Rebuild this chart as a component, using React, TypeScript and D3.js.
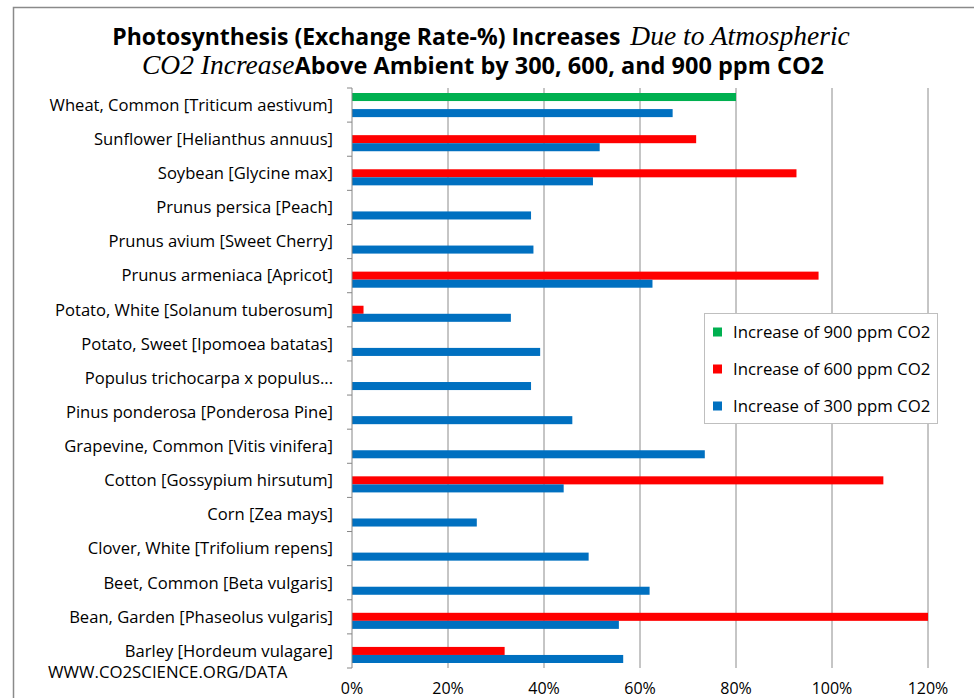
import React from "react";
import * as d3 from "d3";

const categories = [
  "Wheat, Common [Triticum aestivum]",
  "Sunflower [Helianthus annuus]",
  "Soybean [Glycine max]",
  "Prunus persica [Peach]",
  "Prunus avium [Sweet Cherry]",
  "Prunus armeniaca [Apricot]",
  "Potato, White [Solanum tuberosum]",
  "Potato, Sweet [Ipomoea batatas]",
  "Populus trichocarpa x populus...",
  "Pinus ponderosa [Ponderosa Pine]",
  "Grapevine, Common [Vitis vinifera]",
  "Cotton [Gossypium hirsutum]",
  "Corn [Zea mays]",
  "Clover, White [Trifolium repens]",
  "Beet, Common [Beta vulgaris]",
  "Bean, Garden [Phaseolus vulgaris]",
  "Barley [Hordeum vulagare]",
];

// percent increase; null = no data
const inc900: (number | null)[] = [80, null, null, null, null, null, null, null, null, null, null, null, null, null, null, null, null];
const inc600: (number | null)[] = [null, 71.7, 92.6, null, null, 97.2, 2.4, null, null, null, null, 110.7, null, null, null, 120, 31.8];
const inc300: (number | null)[] = [66.8, 51.6, 50.2, 37.3, 37.8, 62.6, 33.1, 39.2, 37.3, 45.9, 73.5, 44.1, 26.0, 49.3, 62.0, 55.6, 56.5];

const xTicks = [0, 20, 40, 60, 80, 100, 120];

const seriesKeys = ["s900", "s600", "s300"];
const seriesLabels = ["Increase of 900 ppm CO2", "Increase of 600 ppm CO2", "Increase of 300 ppm CO2"];
const seriesColors = ["#00B050", "#FF0000", "#0070C0"];

const W = 974;
const H = 698;
const plot = { left: 352, right: 928, top: 88, bottom: 668 };
const sans = "'Open Sans', Lato, sans-serif";
const serif = "'Liberation Serif', 'DejaVu Serif', serif";

export default function App() {
  const x = d3.scaleLinear().domain([0, 120]).range([plot.left, plot.right]);
  const y = d3.scaleBand<string>().domain(categories).range([plot.top, plot.bottom]).padding(0);
  const bw = y.bandwidth();
  const ys = d3.scaleBand<string>().domain(seriesKeys).range([5, bw - 5]).padding(0);
  const allSeries = [inc900, inc600, inc300];

  return (
    <svg
      width={W}
      height={H}
      style={{ position: "absolute", left: 0, top: 0, background: "#fff" }}
    >
      <rect x={0} y={0} width={W} height={H} fill="#fff" />
      <rect x={13.5} y={7.5} width={W + 20} height={H + 20} fill="none" stroke="#8a8a8a" strokeWidth={1.5} />

      {/* title */}
      <text x={481} y={45} textAnchor="middle" fontSize={23} fill="#000">
        <tspan fontFamily={sans} fontWeight="bold">Photosynthesis (Exchange Rate-%) Increases </tspan>
        <tspan fontFamily={serif} fontStyle="italic" fontSize={27.5} dx={4}>Due to Atmospheric</tspan>
      </text>
      <text x={483} y={74} textAnchor="middle" fontSize={23.5} fill="#000">
        <tspan fontFamily={serif} fontStyle="italic" fontSize={27.5}>CO2 Increase</tspan>
        <tspan fontFamily={sans} fontWeight="bold">Above Ambient by 300, 600, and 900 ppm CO2</tspan>
      </text>

      {/* gridlines */}
      {xTicks.slice(1).map((t) => (
        <line key={t} x1={x(t)} x2={x(t)} y1={plot.top} y2={plot.bottom} stroke="#8c8c8c" strokeWidth={1} />
      ))}

      {/* bars */}
      <defs>
        <clipPath id="clip">
          <rect x={plot.left} y={plot.top} width={plot.right - plot.left} height={plot.bottom - plot.top} />
        </clipPath>
      </defs>
      <g clipPath="url(#clip)">
        {allSeries.map((arr, si) =>
          arr.map((v, i) =>
            v == null ? null : (
              <rect
                key={si + "-" + i}
                x={x(0)}
                y={(y(categories[i]) as number) + (ys(seriesKeys[si]) as number)}
                width={x(v) - x(0)}
                height={ys.bandwidth()}
                fill={seriesColors[si]}
              />
            )
          )
        )}
      </g>

      {/* left axis */}
      <line x1={plot.left} x2={plot.left} y1={plot.top} y2={plot.bottom} stroke="#868686" strokeWidth={1} />
      {d3.range(categories.length + 1).map((i) => {
        const yy = plot.top + i * bw;
        return <line key={i} x1={plot.left - 5} x2={plot.left} y1={yy} y2={yy} stroke="#868686" strokeWidth={1} />;
      })}
      {categories.map((c) => (
        <text
          key={c}
          x={333}
          y={(y(c) as number) + bw / 2}
          dy="0.35em"
          textAnchor="end"
          fontFamily={sans}
          fontSize={16.6}
          fill="#000"
        >
          {c}
        </text>
      ))}

      {/* x tick labels */}
      {xTicks.map((t) => (
        <text key={t} x={x(t)} y={688} dy="0.35em" textAnchor="middle" fontFamily={sans} fontSize={16} fill="#000">
          {t + "%"}
        </text>
      ))}

      {/* watermark */}
      <text x={48} y={672} dy="0.35em" fontFamily={sans} fontSize={16.8} fill="#000">
        WWW.CO2SCIENCE.ORG/DATA
      </text>

      {/* legend */}
      <rect x={704.5} y={313.5} width={233} height={110} fill="#fff" stroke="#bfbfbf" strokeWidth={1} />
      {seriesLabels.map((l, i) => (
        <g key={l} transform={`translate(713, ${332 + i * 37})`}>
          <rect x={0} y={-4.5} width={9} height={9} fill={seriesColors[i]} />
          <text x={20} y={0} dy="0.35em" fontFamily={sans} fontSize={16.8} fill="#000">
            {l}
          </text>
        </g>
      ))}
    </svg>
  );
}
